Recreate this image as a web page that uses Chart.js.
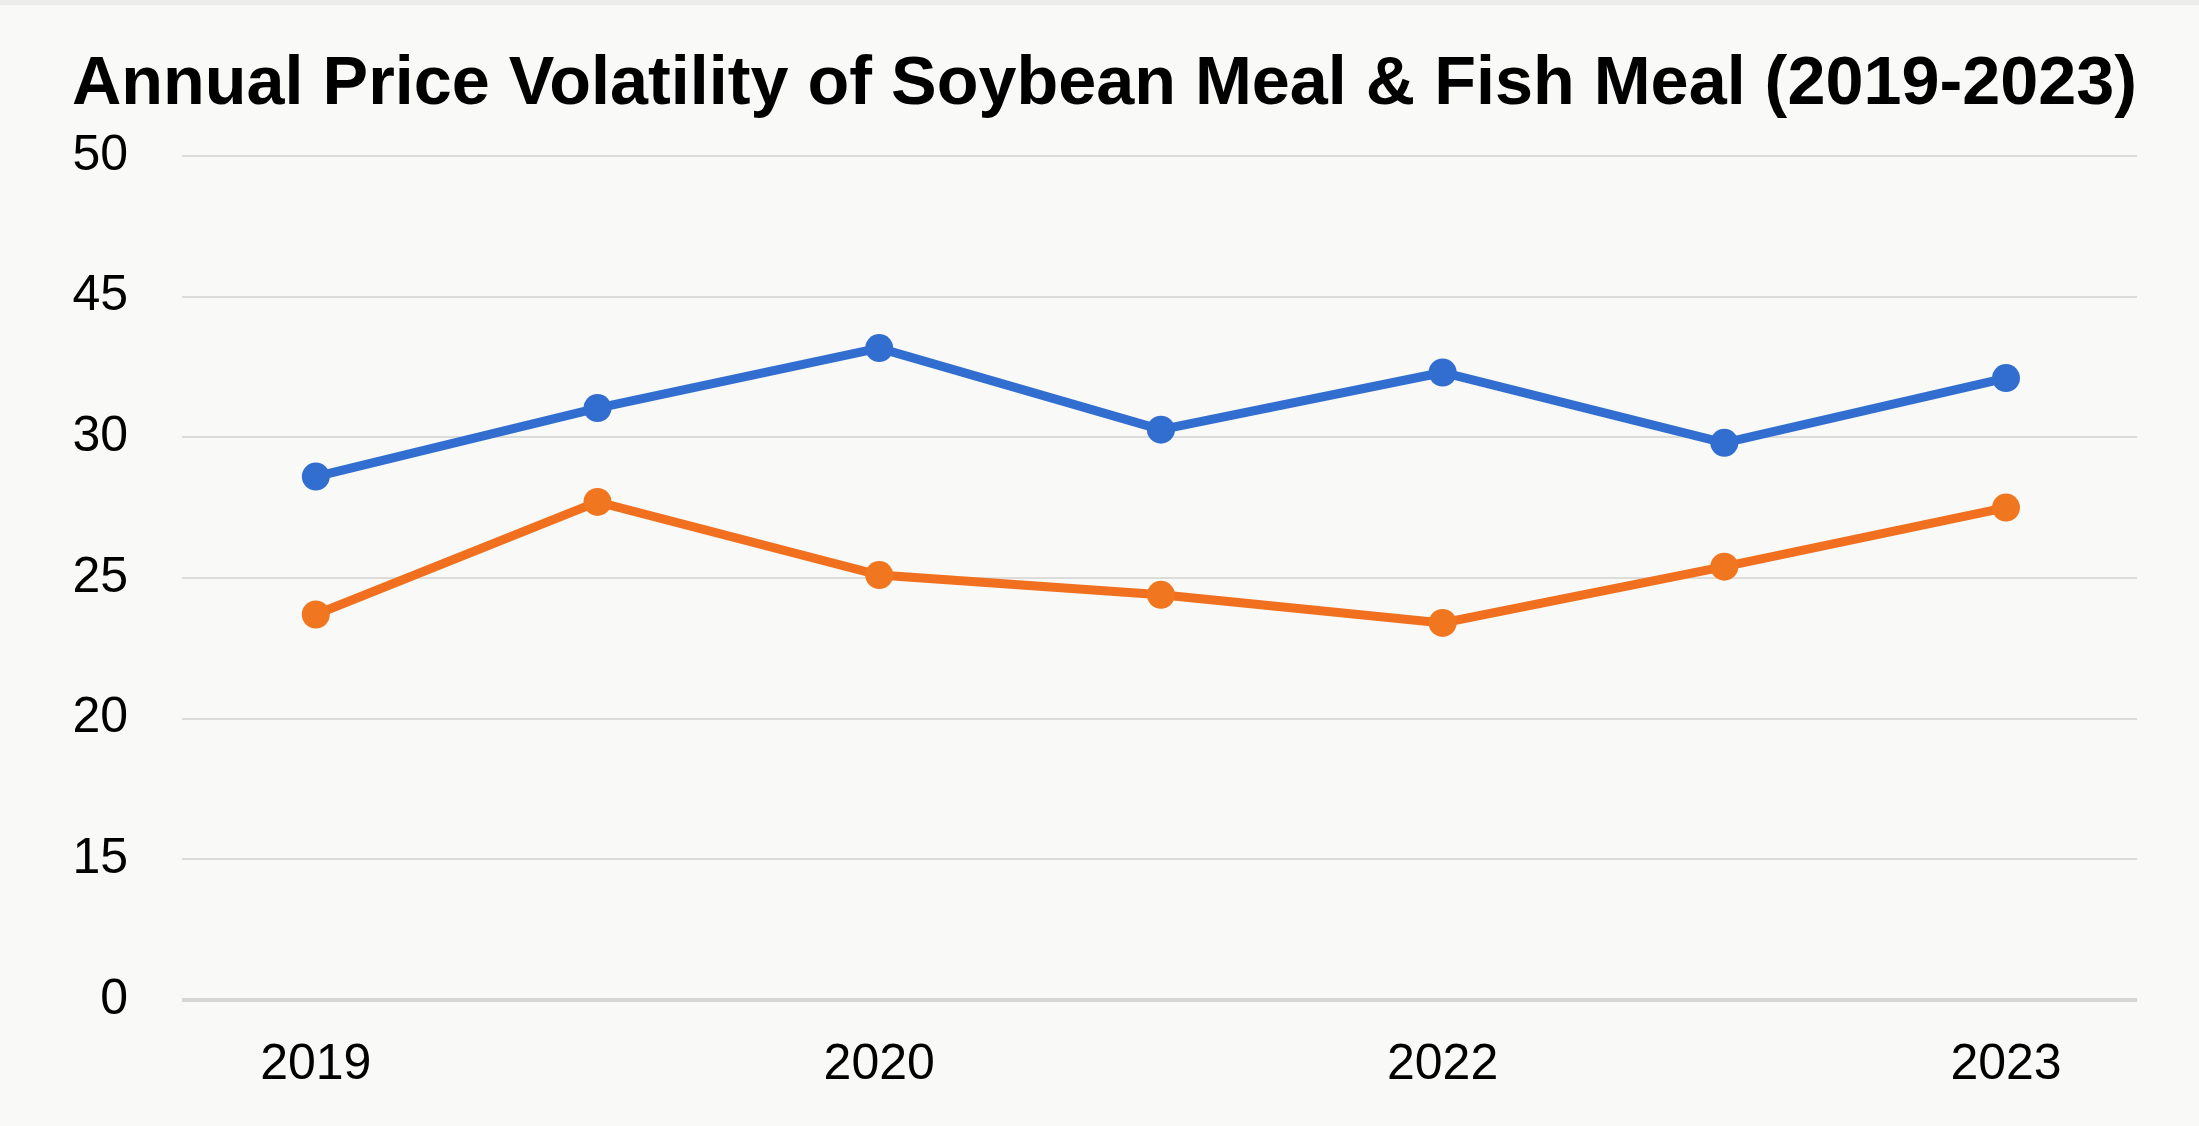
<!DOCTYPE html>
<html>
<head>
<meta charset="utf-8">
<script src="https://cdn.jsdelivr.net/npm/chart.js@4.4.1/dist/chart.umd.min.js"></script>
<style>
  html, body { margin: 0; padding: 0; background: #f9f9f7; }
  #wrap { position: relative; width: 2199px; height: 1126px; }
  canvas { display: block; }
</style>
</head>
<body>
<div id="wrap"><canvas id="c"></canvas></div>
<script>
// ---- Data ----
const titleText = 'Annual Price Volatility of Soybean Meal & Fish Meal (2019-2023)';
const categories = ['2019', '', '2020', '', '2022', '', '2023'];
const yTickLabels = [0, 15, 20, 25, 30, 45, 50];
const soybeanMeal = [28.6, 33.1, 39.5, 30.8, 36.9, 29.8, 36.3];
const fishMeal = [23.7, 27.7, 25.1, 24.4, 23.4, 25.4, 27.5];

// ---- A y scale whose gridlines are evenly spaced at the (uneven) tick values ----
class SteppedScale extends Chart.LinearScale {
  determineDataLimits() {
    this.min = yTickLabels[0];
    this.max = yTickLabels[yTickLabels.length - 1];
  }
  buildTicks() {
    return yTickLabels.map(v => ({ value: v }));
  }
  _slotOf(value) {
    const t = yTickLabels, n = t.length - 1;
    if (value <= t[0]) return 0;
    for (let i = 0; i < n; i++) {
      if (value <= t[i + 1]) return i + (value - t[i]) / (t[i + 1] - t[i]);
    }
    return n;
  }
  getPixelForValue(value) {
    return this.getPixelForDecimal(this._slotOf(value) / (yTickLabels.length - 1));
  }
  getValueForPixel(pixel) {
    const t = yTickLabels, n = t.length - 1;
    const s = this.getDecimalForPixel(pixel) * n;
    const i = Math.max(0, Math.min(n - 1, Math.floor(s)));
    return t[i] + (s - i) * (t[i + 1] - t[i]);
  }
}
SteppedScale.id = 'stepped';
SteppedScale.defaults = Chart.LinearScale.defaults;
Chart.register(SteppedScale);

const bgPlugin = {
  id: 'bg',
  beforeDraw(chart) {
    const { ctx, width, height } = chart;
    ctx.save();
    ctx.fillStyle = '#f9f9f7';
    ctx.fillRect(0, 0, width, height);
    ctx.fillStyle = '#ebebeb';
    ctx.fillRect(0, 0, width, 5);
    ctx.restore();
  }
};

const ctx = document.getElementById('c');
new Chart(ctx, {
  type: 'line',
  data: {
    datasets: [
      {
        label: 'Soybean Meal',
        data: soybeanMeal.map((v, i) => ({ x: i, y: v })),
        borderColor: '#326ed0',
        backgroundColor: '#326ed0',
        borderWidth: 9,
        pointRadius: 14,
        pointHoverRadius: 14,
        pointBorderWidth: 0,
        tension: 0
      },
      {
        label: 'Fish Meal',
        data: fishMeal.map((v, i) => ({ x: i, y: v })),
        borderColor: '#f0701f',
        backgroundColor: '#f0761f',
        borderWidth: 9,
        pointRadius: 14,
        pointHoverRadius: 14,
        pointBorderWidth: 0,
        tension: 0
      }
    ]
  },
  options: {
    responsive: true,
    maintainAspectRatio: false,
    animation: false,
    layout: { padding: { top: 30, right: 62, bottom: 0, left: 72 } },
    plugins: {
      legend: { display: false },
      tooltip: { enabled: false },
      title: {
        display: true,
        text: titleText,
        color: '#000000',
        font: { family: '"Liberation Sans", Arial, sans-serif', size: 69, weight: 'bold' },
        padding: { top: 14, bottom: 29 }
      }
    },
    scales: {
      x: {
        type: 'linear',
        min: -0.475,
        max: 6.465,
        afterBuildTicks(scale) {
          scale.ticks = categories.map((c, i) => ({ value: i }));
        },
        afterFit(scale) {
          scale.paddingLeft = 0;
          scale.paddingRight = 0;
          scale.height = 126;
        },
        grid: { display: false, drawTicks: false },
        border: { display: false },
        ticks: {
          autoSkip: false,
          maxRotation: 0,
          padding: 35,
          color: '#000000',
          font: { family: '"Liberation Sans", Arial, sans-serif', size: 50 },
          callback: (v) => categories[Math.round(v)] ?? ''
        }
      },
      y: {
        type: 'stepped',
        afterFit(scale) {
          scale.width = 110;
        },
        grid: {
          drawTicks: false,
          color: (c) => c.tick && c.tick.value === 0 ? '#d6d6d4' : '#dcdcda',
          lineWidth: (c) => c.tick && c.tick.value === 0 ? 4 : 2
        },
        border: { display: false },
        ticks: {
          padding: 54,
          color: '#000000',
          font: { family: '"Liberation Sans", Arial, sans-serif', size: 50 }
        }
      }
    }
  },
  plugins: [bgPlugin]
});
</script>
</body>
</html>
